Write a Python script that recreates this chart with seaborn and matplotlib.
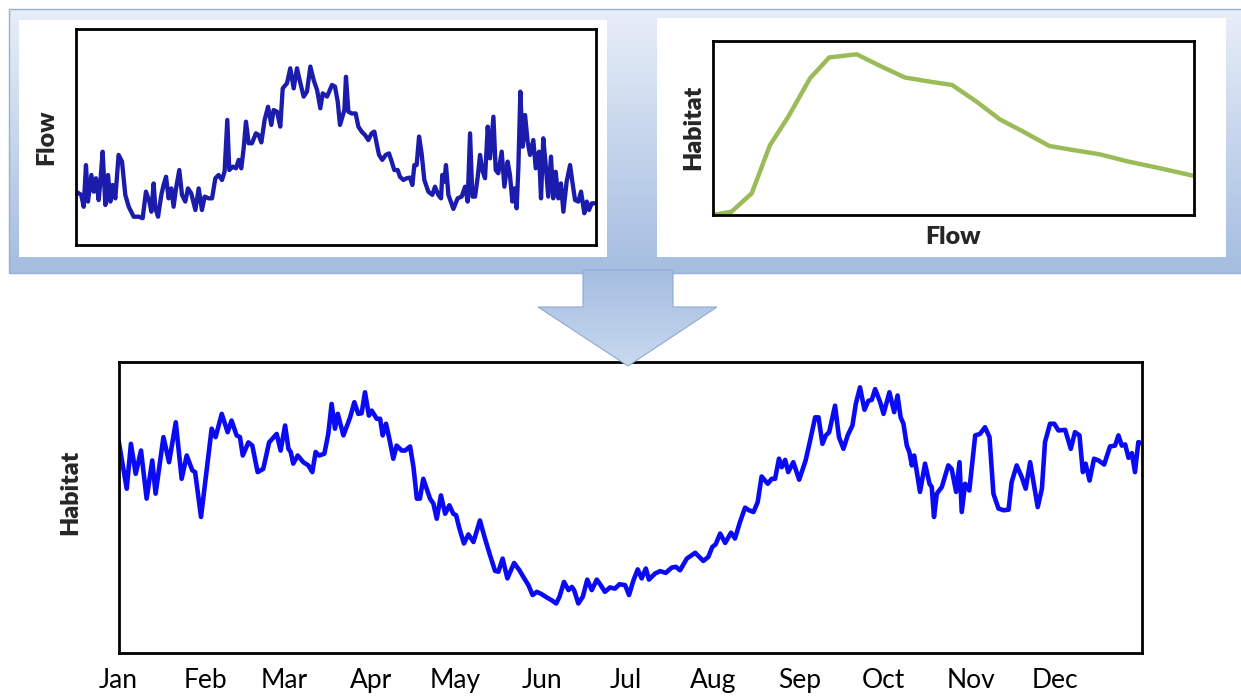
import numpy as np
import matplotlib.pyplot as plt
import seaborn as sns
from matplotlib.patches import Rectangle, Polygon
from matplotlib.colors import LinearSegmentedColormap

# --- data ---
# top-left: daily flow (day of year, relative flow 0-100)
flow_day = [0, 3.7, 5.4, 7.0, 8.4, 10.8, 12.4, 14.0, 15.9, 17.1, 18.7, 20.6, 22.5, 24.1, 25.7,
            27.6, 29.9, 32.3, 34.6, 37.0, 40.5, 44.0, 46.8, 49.1, 51.5, 52.9, 54.5, 55.7, 57.6,
            59.9, 61.5, 63.2, 65.0, 66.9, 68.5, 70.2, 72.5, 74.4, 76.7, 78.6, 80.9, 83.8, 86.1,
            88.4, 90.3, 93.1, 95.5, 97.8, 100.1, 102.5, 104.3, 106.2, 107.6, 110.0, 112.3, 114.2,
            116.0, 117.7, 119.3, 121.2, 123.5, 126.3, 128.2, 130.1, 132.4, 134.8, 137.1, 138.7,
            141.1, 143.4, 145.1, 148.1, 150.4, 152.8, 155.1, 157.5, 159.8, 162.1, 164.5, 166.8,
            169.2, 171.5, 173.2, 176.2, 179.7, 181.8, 183.7, 185.3, 187.0, 188.4, 189.5, 191.2,
            193.5, 196.3, 198.2, 200.5, 202.9, 205.2, 207.5, 209.4, 211.0, 212.7, 215.0, 217.4,
            219.7, 221.6, 223.4, 225.8, 227.4, 229.8, 232.1, 234.4, 236.1, 237.5, 239.1, 240.8,
            242.6, 244.5, 247.3, 250.1, 252.0, 254.3, 256.2, 257.1, 258.5, 259.7, 261.4, 264.9,
            267.9, 270.7, 273.1, 274.9, 276.6, 278.2, 280.1, 282.0, 283.6, 285.2, 287.1, 289.0,
            290.6, 293.0, 294.6, 296.4, 298.8, 300.7, 303.0, 304.6, 306.3, 307.7, 309.3, 310.5,
            311.9, 313.5, 315.2, 317.0, 318.7, 321.0, 322.7, 325.0, 326.4, 328.0, 329.7, 331.5,
            333.4, 335.0, 336.7, 338.6, 340.4, 342.1, 344.4, 346.8, 348.4, 350.3, 352.6, 354.5,
            356.8, 358.5, 360.1, 362.0, 365]
flow_val = [24.7, 23.2, 17.7, 37.0, 20.1, 32.4, 24.7, 30.9, 20.8, 29.3, 43.2, 18.5, 32.4, 20.1, 27.8,
            21.6, 41.7, 38.6, 23.2, 17.7, 13.1, 13.1, 12.4, 24.7, 20.1, 15.4, 28.5, 17.0, 13.1,
            23.2, 27.8, 31.6, 21.6, 26.2, 17.7, 26.2, 34.7, 23.2, 20.1, 26.2, 23.9, 16.2, 26.2,
            16.2, 22.4, 21.6, 21.6, 30.9, 32.4, 30.1, 34.0, 57.9, 34.7, 36.3, 35.5, 39.4,
            35.5, 44.8, 57.1, 47.1, 47.1, 51.7, 50.9, 47.5, 57.9, 64.0, 55.6, 62.5,
            61.7, 54.8, 72.5, 74.9, 81.8, 72.5, 81.8, 74.9, 68.7, 71.0, 82.6, 76.4,
            71.8, 63.3, 70.2, 68.7, 74.1, 73.3, 66.4, 55.6, 59.4, 62.5, 77.9, 61.7,
            60.9, 60.9, 54.8, 52.5, 50.9, 48.6, 51.7, 52.5, 47.1, 41.7, 39.4, 41.7,
            42.4, 38.6, 34.7, 34.7, 31.6, 30.1, 30.9, 31.2, 27.8, 37.0, 37.0, 50.2,
            42.4, 30.1, 24.7, 23.2, 27.0, 23.2, 21.6, 32.4, 29.3, 37.0, 23.2, 16.7,
            21.6, 22.4, 27.0, 20.1, 51.7, 22.4, 22.4, 31.6, 41.7, 34.7, 30.9, 54.8,
            40.1, 59.4, 34.7, 33.2, 43.2, 27.0, 38.6, 32.4, 20.1, 26.2, 17.0, 35.5,
            71.0, 45.5, 60.2, 47.8, 41.7, 48.6, 35.5, 43.2, 21.6, 49.4, 37.0, 22.4,
            40.9, 21.6, 33.9, 21.6, 28.5, 15.4, 29.3, 37.0, 29.3, 20.8, 20.1, 24.7,
            14.7, 20.1, 16.2, 19.3, 19.3]

# top-right: habitat vs flow curve (both relative 0-100)
curve_flow = [0, 3.9, 8.1, 11.9, 15.7, 20.2, 24.2, 29.9, 34.8, 39.9, 45.1, 49.7, 54.8,
              59.6, 64.5, 69.9, 74.8, 80.4, 85.9, 92.9, 100]
curve_hab = [0, 1.9, 12.4, 40.1, 56.4, 78.4, 90.4, 92.2, 85.5, 78.9, 76.5, 74.6, 65.0,
             54.9, 47.8, 39.6, 37.3, 34.8, 30.9, 26.8, 22.4]

# bottom: daily habitat (day of year, relative habitat 0-100)
hab_day = [0, 2.9, 4.4, 6.1, 8.0, 10.0, 12.0, 13.2, 16.0, 18.0, 20.4, 22.5, 24.3, 26.3, 27.3,
           29.4, 33.2, 34.6, 36.8, 38.9, 40.3, 42.1, 43.3, 44.3, 46.3, 47.7, 49.6, 51.6, 53.7,
           56.4, 57.8, 59.4, 60.6, 61.4, 62.3, 63.9, 65.9, 67.7, 69.1, 70.3, 71.5, 73.4, 74.8,
           76.0, 77.2, 78.2, 80.2, 82.6, 84.1, 85.5, 86.7, 87.9, 89.3,
           90.3, 92.1, 93.3, 94.2, 95.4, 96.6, 98.0, 99.2, 101.0, 102.2, 104.0, 105.2, 106.4,
           107.5, 108.7, 109.9, 111.1, 112.3, 113.5, 115.0, 116.5, 118.0, 119.4, 120.4, 121.6,
           123.2, 124.8, 126.6, 128.9, 130.7, 132.5, 134.3, 135.5, 137.0, 138.7, 141.1, 143.0,
           144.4, 146.2, 147.7, 149.2, 150.9, 152.7, 154.5, 156.1, 157.3, 158.9, 160.5, 161.7,
           162.5, 164.0, 165.6, 167.2, 168.8, 170.6, 172.0, 173.5, 175.3, 177.1, 178.7,
           180.7, 182.1, 183.7, 185.2, 186.6, 188.1, 189.2, 191.4, 193.2, 195.2, 197.3, 198.8,
           200.3, 202.7, 205.7, 208.6, 210.4, 211.8, 213.0, 214.6, 216.4, 218.5, 219.9, 221.7,
           223.5, 224.9, 226.5, 228.0, 229.4, 231.6, 233.0, 234.2, 235.6, 236.6, 237.8, 238.9,
           240.7, 242.8, 245.1, 246.7, 248.5, 249.7, 251.1, 252.3, 253.5, 255.6, 257.0, 258.6,
           260.1, 261.8, 263.0, 264.5, 266.1, 267.5, 268.7, 269.9,
           271.7, 272.9, 275.0, 276.7, 277.9, 279.0, 280.0, 281.2, 282.1, 283.0, 283.8, 284.5,
           285.9, 287.7, 289.3, 290.1, 290.9, 291.9, 293.7, 296.0, 297.2, 298.8, 300.0, 300.8,
           302.0, 303.5, 305.6, 307.3, 309.1, 310.7, 312.1, 313.9, 315.7, 317.5, 318.6, 320.4,
           322.2, 323.6, 325.2, 326.6, 327.9, 329.4, 330.5, 332.3, 333.8, 335.3, 337.7, 339.7,
           341.2, 342.8, 344.0, 345.0, 346.4, 348.0, 349.6, 351.6, 353.7, 355.5, 356.7, 357.9,
           359.1, 360.3, 361.5, 362.6, 363.8, 365]
hab_val = [72.9, 56.4, 71.8, 61.5, 69.5, 53.0, 66.1, 54.7, 74.1, 65.5, 79.2, 59.8, 67.8, 62.7, 62.1,
           46.7, 77.0, 74.1, 82.1, 75.8, 79.8, 74.7, 74.1, 67.8, 72.3, 71.2, 62.1, 63.2, 72.3,
           75.2, 69.5, 78.1, 70.1, 69.0, 65.0, 67.8, 65.5, 64.4, 62.1, 69.0, 67.8, 68.4, 75.2,
           85.5, 77.0, 82.1, 74.7, 80.9, 86.1, 82.1, 82.3, 89.5, 81.5,
           83.2, 80.4, 80.4, 74.7, 78.7, 73.5, 66.7, 71.2, 69.5, 69.5, 70.9, 63.8, 53.0,
           53.0, 59.8, 56.4, 53.0, 51.3, 46.1, 54.1, 47.8, 50.7, 47.8, 47.3, 42.7,
           37.6, 40.7, 38.1, 45.5, 39.3, 33.6, 28.2, 27.9, 32.4, 25.6, 30.9, 28.4,
           26.1, 23.3, 19.9, 21.0, 20.2, 19.1, 18.1, 17.0, 19.3, 24.4, 21.6, 22.7,
           21.6, 17.0, 19.3, 25.2, 21.6, 25.2, 23.3, 21.0, 22.5, 22.1, 23.6,
           23.3, 19.9, 25.0, 28.7, 25.6, 29.0, 25.2, 27.3, 28.1, 27.5, 29.3, 29.6,
           28.4, 32.4, 34.4, 31.6, 33.0, 36.4, 37.3, 41.0, 37.8, 41.3, 39.3, 45.0,
           49.9, 49.0, 48.4, 51.8, 60.6, 58.1, 59.8, 59.8, 66.7, 63.8, 66.3, 62.1,
           65.5, 59.5, 66.1, 72.9, 80.9, 80.9, 71.8, 74.7, 75.8, 84.9, 74.1, 70.1,
           74.7, 78.1, 85.5, 91.2, 83.5, 86.6, 86.9, 90.6,
           86.1, 82.1, 89.5, 82.7, 88.4, 80.9, 78.7, 71.2, 69.0, 64.4, 67.8, 63.8,
           55.3, 65.0, 58.1, 57.0, 46.7, 54.7, 57.0, 64.4, 63.2, 55.3, 65.5, 48.4,
           58.1, 55.8, 74.7, 75.2, 77.5, 74.1, 54.7, 49.6, 49.0, 49.2, 58.7, 64.4,
           60.4, 56.4, 65.5, 57.5, 50.1, 56.4, 72.4, 78.7, 78.7, 76.4, 76.6, 70.1,
           75.8, 74.7, 62.1, 65.0, 59.2, 66.7, 66.1, 64.7, 70.9, 71.2, 74.7, 71.2,
           71.6, 67.0, 68.6, 62.1, 72.4, 72.0]

month_start = [0, 31, 59, 90, 120, 151, 181, 212, 243, 273, 304, 334]
month_names = ['Jan', 'Feb', 'Mar', 'Apr', 'May', 'Jun', 'Jul', 'Aug', 'Sep', 'Oct', 'Nov', 'Dec']

# --- style ---
sns.set_style('white')
plt.rcParams['font.family'] = ['Lato', 'DejaVu Sans']

W, H = 1241, 696
fig = plt.figure(figsize=(W / 100, H / 100), dpi=100)

# background: blue gradient band with two white panels
bg = fig.add_axes([0, 0, 1, 1], zorder=0)
band_cmap = LinearSegmentedColormap.from_list('band', ['#e8eef8', '#a4bde0'])
grad = np.linspace(0, 1, 256).reshape(-1, 1)
bg.imshow(grad, cmap=band_cmap, extent=[9, 1260, 273, 9], aspect='auto', zorder=1)
bg.add_patch(Rectangle((9, 9), 1251, 264, fc='none', ec='#95b1d6', lw=1, zorder=2))
bg.add_patch(Rectangle((19, 20), 588, 237, fc='white', ec='none', zorder=3))
bg.add_patch(Rectangle((657, 18), 569, 239, fc='white', ec='none', zorder=3))
bg.set_xlim(0, W)
bg.set_ylim(H, 0)
bg.axis('off')

# top-left: flow time series
ax1 = fig.add_axes([76 / W, (H - 245) / H, 520 / W, 216 / H], zorder=2)
sns.lineplot(x=flow_day, y=flow_val, ax=ax1, color='#1c1cac', linewidth=3.1, sort=False,
             solid_joinstyle='round')
ax1.set_xlim(0, 365)
ax1.set_ylim(0, 100)
ax1.set_ylabel('Flow', fontsize=18, fontweight='heavy')
ax1.yaxis.set_label_coords(-0.058, 0.5)
ax1.yaxis.label.set_va('center')

# top-right: habitat-flow relation
ax2 = fig.add_axes([712.7 / W, (H - 215) / H, 481.6 / W, 174.3 / H], zorder=2)
sns.lineplot(x=curve_flow, y=curve_hab, ax=ax2, color='#9bbb59', linewidth=3.2, sort=False)
ax2.set_xlim(0, 100)
ax2.set_ylim(0, 100)
ax2.set_ylabel('Habitat', fontsize=18, fontweight='heavy')
ax2.yaxis.set_label_coords(-0.041, 0.5)
ax2.yaxis.label.set_va('center')
ax2.set_xlabel('Flow', fontsize=18, fontweight='heavy')
ax2.xaxis.set_label_coords(0.5, -0.126)
ax2.xaxis.label.set_va('center')

for ax in (ax1, ax2):
    ax.set_xticks([])
    ax.set_yticks([])
    for sp in ax.spines.values():
        sp.set_color('black')
        sp.set_linewidth(2)

# bottom: habitat time series
ax3 = fig.add_axes([118.6 / W, 43 / H, 1023.1 / W, 291.3 / H], zorder=2)
sns.lineplot(x=hab_day, y=hab_val, ax=ax3, color='#0a0af5', linewidth=3.3, sort=False,
             solid_joinstyle='round')
ax3.set_xlim(0, 365)
ax3.set_ylim(0, 100)
ax3.set_yticks([])
ax3.set_xticks(month_start)
ax3.set_xticklabels(month_names)
ax3.tick_params(axis='x', direction='inout', length=8, width=2, labelsize=19, pad=7,
                colors='black')
ax3.set_ylabel('Habitat', fontsize=18, fontweight='heavy')
ax3.yaxis.set_label_coords(-0.0475, 0.55)
ax3.yaxis.label.set_va('center')
for sp in ax3.spines.values():
    sp.set_color('black')
    sp.set_linewidth(2)

# overlay: down arrow from the band to the bottom chart
ov = fig.add_axes([0, 0, 1, 1], zorder=10)
arrow_pts = [(583, 270), (673, 270), (673, 307), (717, 307), (628, 366), (538, 307), (583, 307)]
arrow = Polygon(arrow_pts, closed=True, fc='none', ec='#8eaad3', lw=0.8, zorder=3)
ov.add_patch(arrow)
arrow_cmap = LinearSegmentedColormap.from_list('arrow', ['#a4bde0', '#c9d9ef'])
im = ov.imshow(grad, cmap=arrow_cmap, extent=[538, 717, 366, 270], aspect='auto', zorder=2)
im.set_clip_path(arrow)
ov.set_xlim(0, W)
ov.set_ylim(H, 0)
ov.axis('off')

fig.savefig('out.png', dpi=100)
